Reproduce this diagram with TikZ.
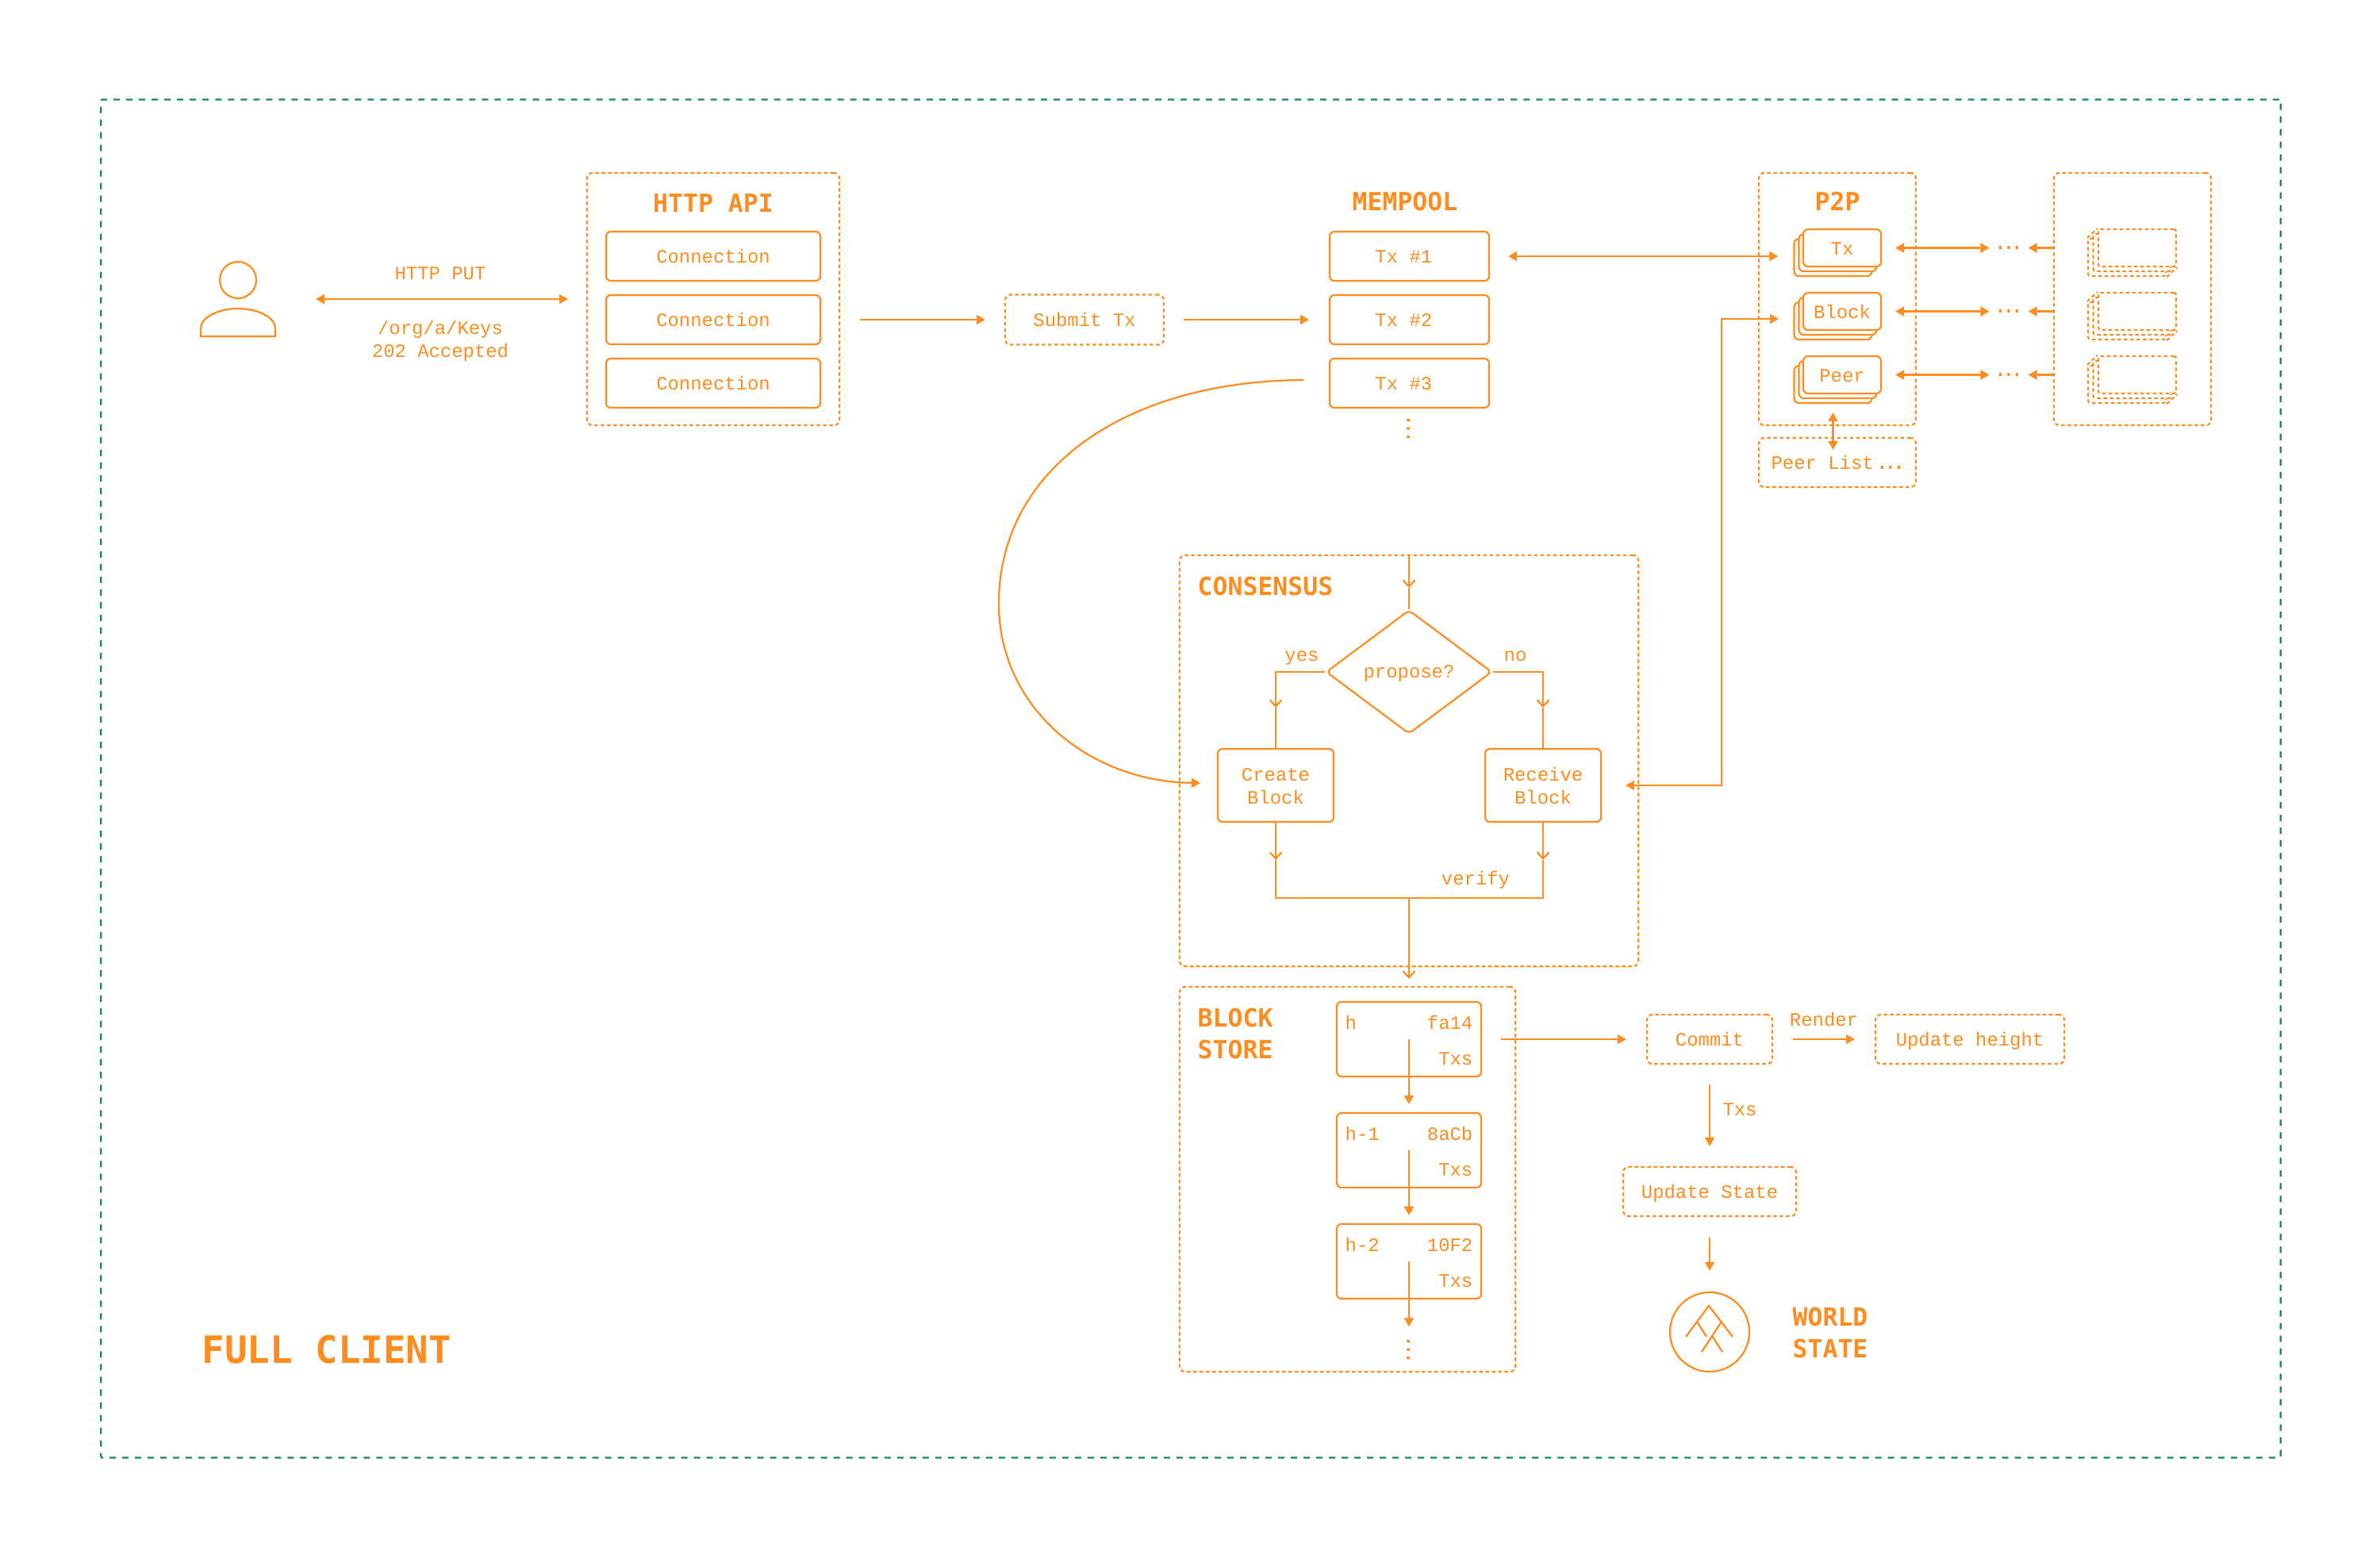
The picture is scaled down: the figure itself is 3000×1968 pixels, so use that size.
\documentclass[tikz,border=0pt]{standalone}
\usepackage{fontspec}
\setmainfont{Liberation Mono}
\newfontfamily\headfont{DejaVu Sans Mono}
\newfontfamily\dotfont{DejaVu Sans}
\usetikzlibrary{arrows.meta,shapes.geometric,positioning}

\definecolor{flowOrange}{HTML}{FF8C1F}
\definecolor{clientGreen}{HTML}{15885C}

\tikzset{
    line/.style={draw=flowOrange, line width=0.022cm},
    arrow/.style={line, -{Triangle[length=0.11cm,width=0.12cm]}},
    biarrow/.style={line, {Triangle[length=0.11cm,width=0.12cm]}-{Triangle[length=0.11cm,width=0.12cm]}},
    openarrow/.style={line, -{Straight Barb[length=0.08cm,width=0.15cm]}},
    solidbox/.style={line, rounded corners=0.06cm, fill=white},
    dotbox/.style={draw=flowOrange, line width=0.022cm, dash pattern=on 0.045cm off 0.035cm, rounded corners=0.07cm},
    title/.style={font=\fontsize{8.95}{11.4}\selectfont\headfont\bfseries, text height=, text depth=},
    twolines/.style={align=center, text height=13.3pt},
    ellipsis/.style={font=\fontsize{9}{9}\selectfont\dotfont, text height=, text depth=},
}

\begin{document}
\begin{tikzpicture}[x=0.01cm, y=-0.01cm, every node/.style={inner sep=0pt, text=flowOrange, text height=4.7pt, text depth=0pt, font=\fontsize{6.8}{8.25}\selectfont}]

\useasboundingbox (0,0) rectangle (3000,1968);

% ===== Define layout parameters =====
\def\ySep{80}        % vertical separation between rows
\def\yRow{323}       % y-coordinate first row
\def\yStack{312.5}   % y-coordinate first P2P stack
\def\yBlock{1310}    % y-coordinate first stored block
\def\hBlock{140}     % vertical separation between stored blocks

% ===== Outer frame =====
\node[draw=clientGreen, line width=0.022cm, dash pattern=on 0.08cm off 0.08cm, rounded corners=0.02cm, minimum width=27.46cm, minimum height=17.11cm] (client) at (1501,981.5) {};
\node[anchor=west, font=\fontsize{13.5}{16}\selectfont\headfont\bfseries, text height=, text depth=] (clientLabel) at (254,1701) {FULL CLIENT};

% ===== User =====
\node[line, circle, minimum size=0.46cm] (head) at (300,353) {};
\draw[line] (253,424) -- (253,414) .. controls (253,400) and (275,389) .. (300,389) .. controls (325,389) and (347,400) .. (347,414) -- (347,424) -- cycle;
\coordinate (userPort) at (398,377);
\node (putLabel) at (555,344) {HTTP PUT};
\node[twolines] (keysLabel) at (555,427) {/org/a/Keys\\202 Accepted};

% ===== HTTP API =====
\node[dotbox, minimum width=3.18cm, minimum height=3.18cm] (api) at (899,377) {};
\node[title] (apiLabel) at (899,256) {HTTP API};
\foreach \i in {1,2,3} {
    \pgfmathsetmacro\y{\yRow+(\i-1)*\ySep}
    \node[solidbox, minimum width=2.7cm, minimum height=0.62cm] (conn\i) at (899,\y) {Connection};
}

% ===== Submit =====
\node[dotbox, minimum width=2cm, minimum height=0.63cm] (submit) at (1367,403) {Submit Tx};

% ===== Mempool =====
\node[title] (memLabel) at (1771,254) {MEMPOOL};
\foreach \i in {1,2,3} {
    \pgfmathsetmacro\y{\yRow+(\i-1)*\ySep}
    \node[solidbox, minimum width=2.01cm, minimum height=0.62cm] (tx\i) at (1776.5,\y) {Tx \#\i\hphantom{x}};
}
\node[ellipsis, rotate=90] (memDots) at (1776,541) {…};

% ===== P2P =====
\node[dotbox, minimum width=1.98cm, minimum height=3.18cm] (p2p) at (2316,377) {};
\node[title] (p2pLabel) at (2316,254) {P2P};
\node[dotbox, minimum width=1.98cm, minimum height=0.62cm] (list) at (2316,583) {Peer List\hspace{0.06cm}{\fontsize{9}{9}\selectfont\dotfont …}};
\node[dotbox, minimum width=1.98cm, minimum height=3.18cm] (remote) at (2688,377) {};

\foreach \i/\name in {1/Tx,2/Block,3/Peer} {
    \pgfmathsetmacro\y{\yStack+(\i-1)*\ySep}
    % local stack
    \node[solidbox, minimum width=0.98cm, minimum height=0.47cm] (back\i) at (2310.5,\y+12) {};
    \node[solidbox, minimum width=0.98cm, minimum height=0.47cm] (mid\i) at (2316.5,\y+6) {};
    \node[solidbox, minimum width=0.98cm, minimum height=0.47cm, text height=5.3pt] (front\i) at (2322,\y) {\name};
    % remote stack
    \node[dotbox, fill=white, rounded corners=0.03cm, minimum width=0.98cm, minimum height=0.47cm] (rback\i) at (2681,\y+12) {};
    \node[dotbox, fill=white, rounded corners=0.03cm, minimum width=0.98cm, minimum height=0.47cm] (rmid\i) at (2687.5,\y+6) {};
    \node[dotbox, fill=white, rounded corners=0.03cm, minimum width=0.98cm, minimum height=0.47cm] (rfront\i) at (2694,\y) {};
    \draw[dotbox] (rback\i.north west) -- (rfront\i.north west);
    \draw[dotbox] (rback\i.south east) -- (rfront\i.south east);
    % links
    \node[ellipsis] (hdots\i) at (2532,\y) {…};
    \draw[biarrow, shorten <=0.17cm, shorten >=0.08cm] (front\i.east) -- (hdots\i.west);
    \draw[arrow, shorten >=0.08cm] (remote.west |- hdots\i) -- (hdots\i.east);
}
\draw[biarrow, shorten <=0.11cm, shorten >=0.16cm] (back3.south) -- (back3.south |- list.center);

% ===== Connections =====
\draw[biarrow, shorten >=0.23cm] (userPort) -- (api.west);
\draw[arrow, shorten <=0.49cm, shorten >=0.24cm] (conn2.east) -- (submit.west);
\draw[arrow, shorten <=0.24cm, shorten >=0.25cm] (submit.east) -- (tx2.west);
\draw[biarrow, shorten <=0.23cm, shorten >=0.19cm] (tx1.east) -- (back1.west |- tx1.east);

% ===== Consensus =====
\node[dotbox, minimum width=5.78cm, minimum height=5.18cm] (consensus) at (1776,959) {};
\node[title, anchor=west] (consLabel) at (1509,739) {CONSENSUS};
\node[line, diamond, aspect=1.344, rounded corners=0.06cm, minimum width=2.09cm, minimum height=1.56cm, text height=4.3pt] (propose) at (1776,847) {propose?};
\node[solidbox, twolines, minimum width=1.46cm, minimum height=0.92cm] (create) at (1608,990) {Create\\Block};
\node[solidbox, twolines, minimum width=1.46cm, minimum height=0.92cm] (receive) at (1945,990) {Receive\\Block};
\node (yesLabel) at (1641,825) {yes};
\node (noLabel) at (1910,825) {no};
\node (verifyLabel) at (1860,1107) {verify};

\coordinate (inMid) at (1776,741);
\coordinate (yesMid) at (1608,892);
\coordinate (noMid) at (1945,892);
\coordinate (createMid) at (1608,1084);
\coordinate (receiveMid) at (1945,1084);
\coordinate (merge) at (1776,1132);

\draw[openarrow] (consensus.north) -- (inMid);
\draw[line] (inMid) -- (propose.north);
\draw[openarrow] (propose.west) -| (yesMid);
\draw[openarrow] (propose.east) -| (noMid);
\draw[line] (yesMid) -- (create.north);
\draw[line] (noMid) -- (receive.north);
\draw[openarrow] (create.south) -- (createMid);
\draw[openarrow] (receive.south) -- (receiveMid);
\draw[line] (createMid) |- (merge) -| (receiveMid);

% ===== Block store =====
\node[dotbox, minimum width=4.23cm, minimum height=4.85cm] (store) at (1698.5,1486.5) {};
\node[title, anchor=west, align=left] (storeLabel) at (1509,1303) {BLOCK\\STORE};
\draw[openarrow, shorten >=0.09cm] (merge) -- (merge |- store.north);

\foreach \i/\h/\hash in {1/h/fa14,2/h-1/8aCb,3/h-2/10F2} {
    \pgfmathsetmacro\y{\yBlock+(\i-1)*\hBlock}
    \node[solidbox, minimum width=1.82cm, minimum height=0.94cm] (block\i) at (1776,\y) {};
    \node[anchor=west] (height\i) at (1695,\y-21) {\h};
    \node[anchor=east] (hash\i) at (1857,\y-21) {\hash};
    \node[anchor=east] (txs\i) at (1857,\y+24) {Txs};
}
\node[ellipsis, rotate=90] (storeDots) at (1776,1702) {…};
\draw[arrow, shorten >=0.1cm] (block1.center) -- (block2.north);
\draw[arrow, shorten >=0.1cm] (block2.center) -- (block3.north);
\draw[arrow, shorten >=0.13cm] (block3.center) -- (storeDots.east);

% ===== Commit and state =====
\node[dotbox, minimum width=1.58cm, minimum height=0.62cm] (commit) at (2155,1310) {Commit};
\node[dotbox, minimum width=2.38cm, minimum height=0.62cm] (update) at (2483,1310) {Update height};
\node[dotbox, minimum width=2.18cm, minimum height=0.62cm] (state) at (2155,1502) {Update State};
\node (renderLabel) at (2299,1285) {Render};
\node (txsLabel) at (2193,1398) {Txs};
\node[line, circle, minimum size=1cm] (world) at (2155,1679) {};
\node[title, align=center] (worldLabel) at (2307,1680) {WORLD\\STATE};

% tree icon
\draw[line] (2125,1685) -- (2154,1646) -- (2184,1685);
\draw[line] (2139,1666) -- (2151,1685);
\draw[line] (2170,1666) -- (2145,1704);
\draw[line] (2158,1684) -- (2171,1704);

\draw[arrow, shorten <=0.24cm, shorten >=0.25cm] (block1.east) -- (commit.west);
\draw[arrow, shorten <=0.25cm, shorten >=0.25cm] (commit.east) -- (update.west);
\draw[arrow, shorten <=0.25cm, shorten >=0.25cm] (commit.south) -- (state.north);
\draw[arrow, shorten <=0.26cm, shorten >=0.26cm] (state.south) -- (world.north);

% ===== Long links =====
\coordinate (curveStart) at (1643,479);
\coordinate (curveEnd) at (1513,987);
\coordinate (relay) at (2170,990);
\coordinate (blockIn) at (2261,402);
\draw[arrow] (curveStart) .. controls (1420,480) and (1259,590) .. (1259,761) .. controls (1259,890) and (1370,985) .. (curveEnd);
\draw[biarrow, shorten <=0.3cm, shorten >=0.19cm] (receive.east) -- (relay) |- (blockIn);

\end{tikzpicture}
\end{document}
